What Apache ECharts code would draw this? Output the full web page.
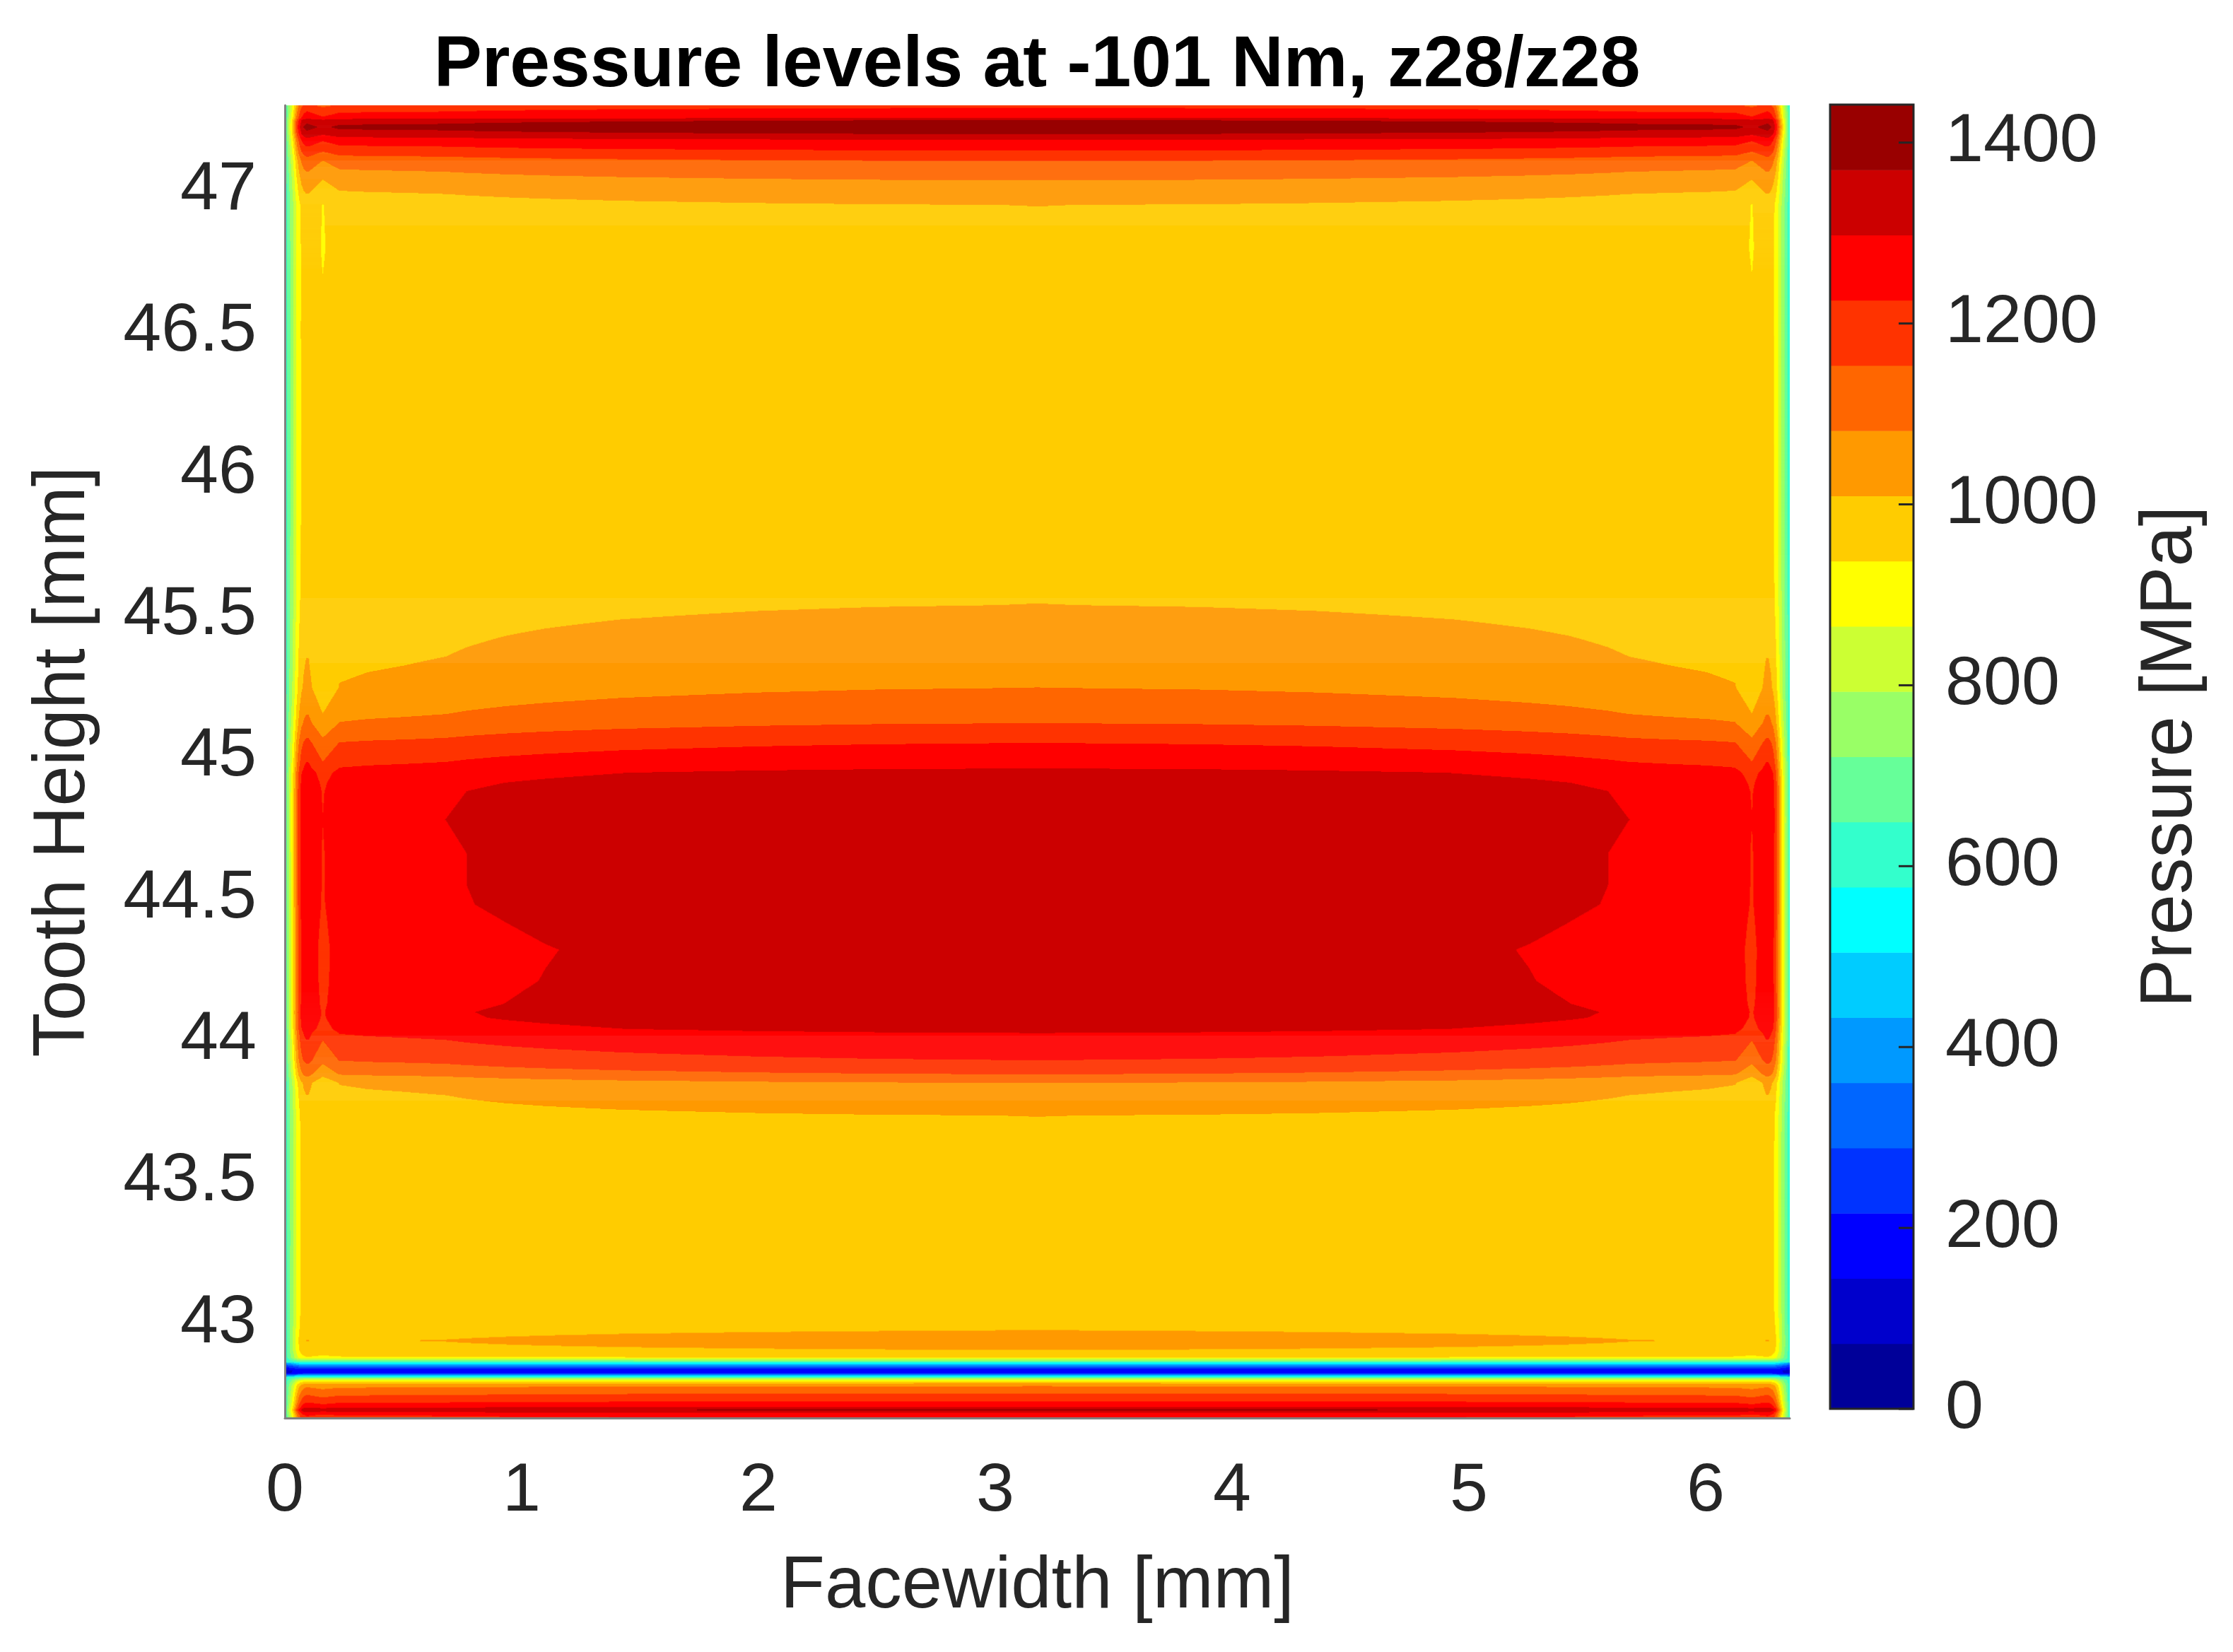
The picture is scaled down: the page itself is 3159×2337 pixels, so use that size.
<!DOCTYPE html>
<html>
<head>
<meta charset="utf-8">
<script src="https://cdn.jsdelivr.net/npm/echarts@6/dist/echarts.min.js"></script>
<style>html, body {margin: 0; background: #fff;} #main {width: 3159px; height: 2337px;}</style>
</head>
<body>
<div id="main"></div>
<script>
// pressure down the middle of the facewidth, per tooth height [mm] -> [MPa]
var heights = [42.665, 42.675, 42.685, 42.695, 42.705, 42.725, 42.755, 42.78, 42.79, 42.80,
    42.813, 42.825, 42.835, 42.85, 42.865, 42.88, 42.89, 42.905, 42.94, 42.975,
    43.05, 43.3, 43.6, 43.735, 43.80, 43.85, 43.88, 43.93, 44.026, 44.04,
    44.08, 44.10, 44.13, 44.21, 44.32, 44.42, 44.48, 44.55, 44.66, 44.78,
    44.88, 44.91, 44.945, 44.96, 45.05, 45.12, 45.245, 45.40, 45.537, 45.7,
    46.0, 46.5, 46.8, 46.95, 47.037, 47.105, 47.142, 47.18, 47.20, 47.225,
    47.25, 47.257, 47.292, 47.30];
var centrePressure = [1225, 1245, 1300, 1385, 1300, 1228, 1150, 1078, 1000, 880,
    600, 175, 170, 350, 650, 936, 965, 1008, 1032, 1010,
    998, 985, 995, 1010, 1050, 1082, 1154, 1226, 1298, 1318,
    1340, 1343, 1336, 1330, 1327, 1336, 1343, 1345, 1345, 1352,
    1345, 1336, 1318, 1298, 1226, 1154, 1082, 1045, 1010, 995,
    982, 985, 995, 1010, 1082, 1154, 1226, 1298, 1370, 1420,
    1370, 1298, 1226, 1200];
// how strongly each height row feels the loss towards the flank ends
var rowScale = [0.3, 0.3, 0.3, 0.3, 0.3, 0.3, 0.3, 0.2, 0.1, 0,
    0, 0, 0, 0, 0, 0.1, 0.2, 0.3, 0.38, 0.35,
    0.45, 0.3, 0.4, 0.55, 0.8, 1, 1, 1, 1, 1,
    1, 1, 1, 1, 1, 1, 1, 1, 1, 1,
    1, 1, 1, 1, 1, 1, 1, 0.8, 0.55, 0.45,
    0.3, 0.3, 0.5, 0.6, 0.6, 0.6, 0.5, 0.5, 0.5, 0.5,
    0.5, 0.5, 0.5, 0.5];

// pressure loss vs distance from the nearer flank end [mm] -> [MPa]
var edgeDist = [0.08, 0.10, 0.16, 0.23, 0.35, 0.5, 0.68, 0.77, 0.93, 1.1, 1.42, 2.0, 2.5, 3.2];
var edgeDrop = [55, 55, 125, 70, 64, 60, 54, 47, 38, 31, 21, 10, 4, 0];

// fall-off right at the flank ends
var rimDist = [0, 0.01, 0.02, 0.03, 0.04, 0.05, 0.06, 0.07, 0.08, 0.09];
var rimWeight = [0, 0.2, 0.33, 0.46, 0.6, 0.75, 0.86, 0.94, 0.98, 1];
var rimFloor = 580;

var faceWidth = 6.355;
var heightMin = 42.665, heightMax = 47.30;

var levelStep = 72.1;
var jet = ['#000099', '#0000CC', '#0000FF', '#0033FF', '#0066FF', '#0099FF', '#00CCFF', '#00FFFF',
    '#33FFCC', '#66FF99', '#99FF66', '#CCFF33', '#FFFF00', '#FFCC00', '#FF9900', '#FF6600',
    '#FF3300', '#FF0000', '#CC0000', '#990000'];

var xTicks = [0, 1, 2, 3, 4, 5, 6];
var yTicks = [43, 43.5, 44, 44.5, 45, 45.5, 46, 46.5, 47];
var barTicks = [0, 200, 400, 600, 800, 1000, 1200, 1400];

function lookup(xs, ys, v) {
    if (v <= xs[0]) return ys[0];
    for (var i = 1; i < xs.length; i++) {
        if (v <= xs[i]) return ys[i-1] + (v - xs[i-1]) / (xs[i] - xs[i-1]) * (ys[i] - ys[i-1]);
    }
    return ys[ys.length-1];
}

// filled contour bands, one rect per run of equal level along each row
var dx = 0.003, dy = 0.0025;
var nx = Math.ceil(faceWidth / dx), ny = Math.ceil((heightMax - heightMin) / dy);
var colDrop = [], colRim = [];
for (var i = 0; i < nx; i++) {
    var x = (i + 0.5) * dx, d = Math.min(x, faceWidth - x);
    colDrop.push(lookup(edgeDist, edgeDrop, d));
    colRim.push(lookup(rimDist, rimWeight, d));
}
var cells = [];
for (var j = 0; j < ny; j++) {
    var y0 = heightMin + j * dy, y1 = Math.min(y0 + dy, heightMax), yc = (y0 + y1) / 2;
    var p = lookup(heights, centrePressure, yc), s = lookup(heights, rowScale, yc);
    var start = 0, band = -1;
    for (var i = 0; i <= nx; i++) {
        var b = -1;
        if (i < nx) {
            var v = p - colDrop[i] * s, w = colRim[i];
            v = v > rimFloor ? rimFloor + (v - rimFloor) * w : v * (0.7 + 0.3 * w);
            b = Math.max(0, Math.min(jet.length - 1, Math.floor(v / levelStep)));
        }
        if (b !== band) {
            if (band >= 0) cells.push([start * dx, Math.min(i * dx, faceWidth), y0, y1, band]);
            start = i; band = b;
        }
    }
}
var barCells = jet.map(function(c, k) {return [0, 1, k * levelStep, (k + 1) * levelStep, k]});

function bandRect(params, api) {
    var a = api.coord([api.value(0), api.value(3)]);
    var b = api.coord([api.value(1), api.value(2)]);
    return {type: 'rect', shape: {x: a[0], y: a[1], width: b[0] - a[0] + 0.6, height: b[1] - a[1] + 0.6},
        style: {fill: jet[api.value(4)]}};
}

var ink = '#262626', font = 'Liberation Sans, Arial, sans-serif';
// colour bar ticks sit inside the bar, on its right edge
function barTick(params, api) {
    var p = api.coord([1, api.value(0)]);
    return {type: 'line', shape: {x1: p[0] - 21, y1: p[1], x2: p[0], y2: p[1]},
        style: {stroke: ink, lineWidth: 3}};
}
var plain = function(v) {return String(v)};
var chart = echarts.init(document.getElementById('main'));
chart.setOption({
    animation: false,
    textStyle: {fontFamily: font},
    title: {text: 'Pressure levels at -101 Nm, z28/z28', left: 1462, top: 38, textAlign: 'center',
        textStyle: {fontSize: 102, fontWeight: 'bold', color: '#000', fontFamily: font}},
    grid: [
        {left: 403, right: 627, top: 149, bottom: 331},
        {left: 2589, width: 118, top: 148, bottom: 344, show: true, z: 3,
            borderColor: ink, borderWidth: 3, backgroundColor: 'transparent'}
    ],
    xAxis: [
        {gridIndex: 0, type: 'value', min: 0, max: faceWidth, z: 5,
            axisLine: {show: true, lineStyle: {color: '#808080', width: 3}},
            axisTick: {show: false}, splitLine: {show: false},
            axisLabel: {customValues: xTicks, formatter: plain, fontSize: 97, color: ink, margin: 56},
            name: 'Facewidth [mm]', nameLocation: 'middle', nameGap: 188,
            nameTextStyle: {fontSize: 103, color: ink}},
        {gridIndex: 1, type: 'value', min: 0, max: 1, show: false}
    ],
    yAxis: [
        {gridIndex: 0, type: 'value', min: heightMin, max: heightMax, z: 5,
            axisLine: {show: true, lineStyle: {color: '#808080', width: 3}},
            axisTick: {show: false}, splitLine: {show: false},
            axisLabel: {customValues: yTicks, formatter: plain, fontSize: 97, color: ink, margin: 40},
            name: 'Tooth Height [mm]', nameLocation: 'middle', nameGap: 261,
            nameTextStyle: {fontSize: 103, color: ink}},
        {gridIndex: 1, type: 'value', min: 0, max: jet.length * levelStep, position: 'right', z: 5,
            axisLine: {show: false}, splitLine: {show: false}, axisTick: {show: false},
            axisLabel: {customValues: barTicks, formatter: plain, fontSize: 97, color: ink, margin: 45},
            name: 'Pressure [MPa]', nameLocation: 'middle', nameGap: 313,
            nameTextStyle: {fontSize: 103, color: ink}}
    ],
    series: [
        {type: 'custom', xAxisIndex: 0, yAxisIndex: 0, clip: true, renderItem: bandRect,
            progressive: 0, encode: {x: [0, 1], y: [2, 3]}, data: cells, silent: true},
        {type: 'custom', xAxisIndex: 1, yAxisIndex: 1, renderItem: bandRect, z: 1,
            encode: {x: [0, 1], y: [2, 3]}, data: barCells, silent: true},
        {type: 'custom', xAxisIndex: 1, yAxisIndex: 1, renderItem: barTick, z: 4,
            encode: {y: 0}, data: barTicks.map(function(v) {return [v]}), silent: true}
    ]
});
</script>
</body>
</html>
